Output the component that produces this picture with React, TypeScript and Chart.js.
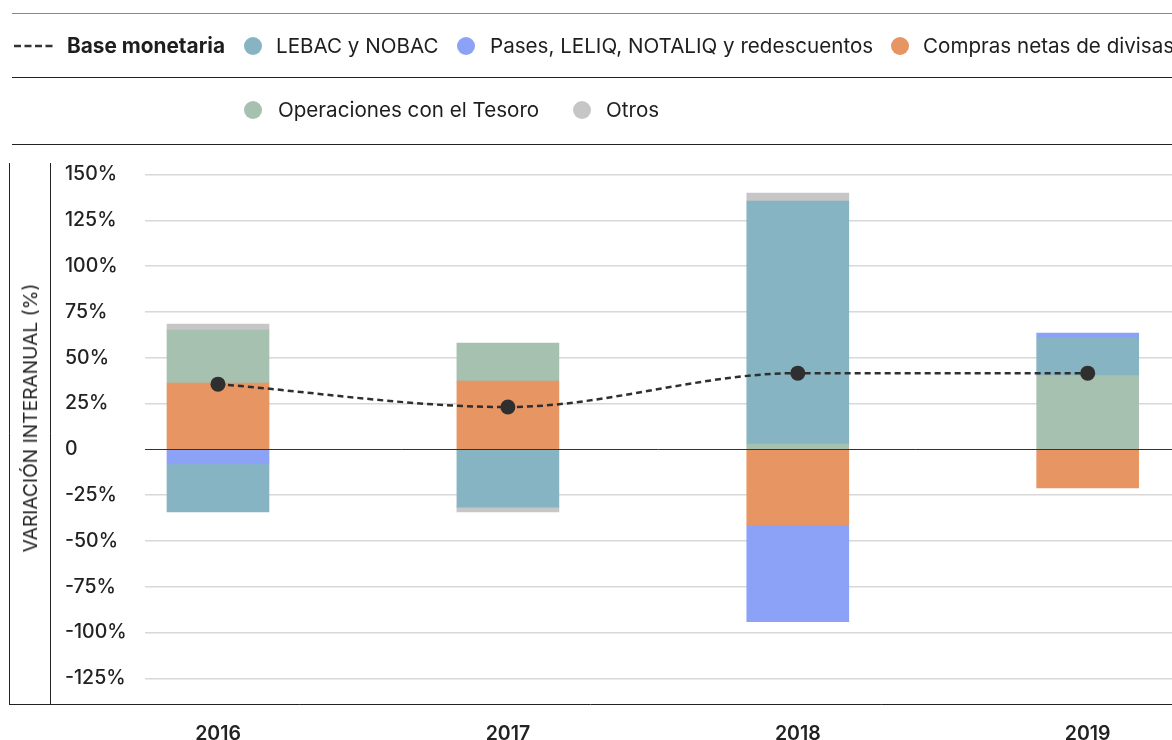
import React, { useEffect, useRef } from 'react';
import { Chart, registerables } from 'chart.js';

Chart.register(...registerables);

// ---- data ----
const years = ['2016', '2017', '2018', '2019'];
const yearPositions = [0, 1, 2, 3];
const baseMonetaria = [35.6, 23.1, 41.6, 41.6];
const lebacNobac = [-26.2, -31.5, 132.6, 20.7];
const pasesLeliq = [-7.9, 0, -52.6, 2.6];
const comprasDivisas = [36.2, 37.3, -41.5, -21.0];
const operacionesTesoro = [28.9, 20.7, 2.9, 40.2];
const otros = [3.3, -2.7, 4.4, 0];
const yTicks = [-125, -100, -75, -50, -25, 0, 25, 50, 75, 100, 125, 150];

const COLORS = {
  lebac: '#86b4c2',
  pases: '#8ca2f6',
  compras: '#e69563',
  tesoro: '#a6c1af',
  otros: '#c6c6c6',
  base: '#2f2f2f',
};

const FONT = "Inter, 'Liberation Sans', Arial, sans-serif";

const toPoints = (values: (number | null)[]) =>
  values.map((v, i) => ({ x: yearPositions[i], y: v === 0 ? null : v }));

const barDataset = (label: string, values: (number | null)[], color: string) => ({
  type: 'bar' as const,
  label,
  data: toPoints(values),
  backgroundColor: color,
  borderWidth: 0,
  stack: 'componentes',
  barThickness: 102,
  order: 1,
});

const framePlugin = {
  id: 'frame',
  afterDatasetsDraw(chart: any) {
    const { ctx, chartArea, scales } = chart;
    const y0 = Math.round(scales.y.getPixelForValue(0)) + 0.5;
    ctx.save();
    ctx.strokeStyle = '#333';
    ctx.lineWidth = 1;
    ctx.beginPath();
    ctx.moveTo(chartArea.left, y0);
    ctx.lineTo(chartArea.right, y0);
    ctx.stroke();
    ctx.restore();
  },
  afterDraw(chart: any) {
    const { ctx, chartArea, width } = chart;
    const top = chartArea.top;
    const bottom = Math.round(chartArea.bottom) + 0.5;
    ctx.save();
    ctx.strokeStyle = '#222';
    ctx.lineWidth = 1;
    ctx.beginPath();
    ctx.moveTo(9.5, top);
    ctx.lineTo(9.5, bottom);
    ctx.moveTo(50.5, top);
    ctx.lineTo(50.5, bottom);
    ctx.moveTo(9, bottom);
    ctx.lineTo(width, bottom);
    ctx.stroke();
    ctx.restore();
  },
};

export default function App() {
  const canvasRef = useRef<HTMLCanvasElement>(null);

  useEffect(() => {
    const canvas = canvasRef.current;
    if (!canvas) return;
    const chart = new Chart(canvas, {
      type: 'bar',
      data: {
        datasets: [
          {
            type: 'line' as const,
            label: 'Base monetaria',
            data: toPoints(baseMonetaria),
            borderColor: COLORS.base,
            borderWidth: 2.5,
            borderDash: [6, 4],
            pointRadius: 7.5,
            pointHoverRadius: 7.5,
            pointBackgroundColor: COLORS.base,
            pointBorderWidth: 0,
            cubicInterpolationMode: 'monotone' as const,
            fill: false,
            stack: 'base',
            order: 0,
          } as any,
          barDataset('Compras netas de divisas', comprasDivisas, COLORS.compras),
          barDataset('Operaciones con el Tesoro', operacionesTesoro, COLORS.tesoro),
          barDataset('Pases, LELIQ, NOTALIQ y redescuentos', pasesLeliq.map((v) => (v < 0 ? v : null)), COLORS.pases),
          barDataset('LEBAC y NOBAC', lebacNobac, COLORS.lebac),
          barDataset('Pases, LELIQ, NOTALIQ y redescuentos', pasesLeliq.map((v) => (v > 0 ? v : null)), COLORS.pases),
          barDataset('Otros', otros, COLORS.otros),
        ],
      },
      options: {
        responsive: false,
        animation: false,
        layout: { autoPadding: false, padding: { left: 65, top: 163, right: 0, bottom: 0 } },
        plugins: { legend: { display: false }, tooltip: { enabled: false } },
        scales: {
          x: {
            type: 'linear',
            offset: false,
            min: -0.2518,
            max: 3.2908,
            grid: { display: false },
            border: { display: false },
            afterBuildTicks: (scale: any) => {
              scale.ticks = yearPositions.map((v) => ({ value: v }));
            },
            afterFit: (scale: any) => {
              scale.height = 36;
            },
            ticks: {
              autoSkip: false,
              maxRotation: 0,
              padding: 10,
              color: '#222',
              font: { family: FONT, size: 19.5, weight: '600' },
              callback: (_v: any, i: number) => years[i],
            },
          },
          y: {
            stacked: true,
            min: -139.0,
            max: 156.3,
            afterBuildTicks: (scale: any) => {
              scale.ticks = yTicks.map((v) => ({ value: v }));
            },
            afterFit: (scale: any) => {
              scale.width = 80;
            },
            grid: {
              drawTicks: false,
              lineWidth: 1.5,
              color: (ctx: any) => (ctx.tick && ctx.tick.value === 0 ? 'rgba(0,0,0,0)' : '#d8d8d8'),
            },
            border: { display: false },
            ticks: {
              crossAlign: 'far',
              color: '#222',
              font: { family: FONT, size: 19.5, weight: '500' },
              callback: (v: any) => (v === 0 ? '0' : `${v}%`),
            },
          },
        },
      } as any,
      plugins: [framePlugin],
    });
    return () => chart.destroy();
  }, []);

  const text: React.CSSProperties = {
    position: 'absolute',
    fontFamily: FONT,
    fontSize: 20.6,
    color: '#1e1e1e',
    whiteSpace: 'nowrap',
    lineHeight: '24px',
    transform: 'translateY(-50%)',
  };
  const dot = (left: number, top: number, color: string): React.CSSProperties => ({
    position: 'absolute',
    left: left - 9,
    top: top - 9,
    width: 18,
    height: 18,
    borderRadius: '50%',
    background: color,
  });
  const hline = (top: number, color: string): React.CSSProperties => ({
    position: 'absolute',
    left: 12,
    right: 0,
    top,
    height: 1,
    background: color,
  });

  const row1 = 46;
  const row2 = 110;

  return (
    <div
      style={{
        position: 'absolute',
        left: 0,
        top: 0,
        width: 1172,
        height: 740,
        overflow: 'hidden',
        background: '#fff',
      }}
    >
      <canvas ref={canvasRef} width={1172} height={740} style={{ position: 'absolute', left: 0, top: 0 }} />

      <div style={hline(13, '#888')} />
      <div style={hline(77, '#222')} />
      <div style={hline(144, '#222')} />

      <svg style={{ position: 'absolute', left: 12, top: row1 - 3 }} width={44} height={6}>
        <line x1={2} y1={3} x2={44} y2={3} stroke="#333" strokeWidth={2.5} strokeDasharray="7 3.5" />
      </svg>
      <div style={{ ...text, left: 67, top: row1, fontWeight: 700, fontSize: 20.8 }}>Base monetaria</div>

      <div style={dot(253, row1, COLORS.lebac)} />
      <div style={{ ...text, left: 276, top: row1 }}>LEBAC y NOBAC</div>

      <div style={dot(466, row1, COLORS.pases)} />
      <div style={{ ...text, left: 490, top: row1 }}>Pases, LELIQ, NOTALIQ y redescuentos</div>

      <div style={dot(900, row1, COLORS.compras)} />
      <div style={{ ...text, left: 923, top: row1 }}>Compras netas de divisas</div>

      <div style={dot(253, row2, COLORS.tesoro)} />
      <div style={{ ...text, left: 278, top: row2 }}>Operaciones con el Tesoro</div>

      <div style={dot(582, row2, COLORS.otros)} />
      <div style={{ ...text, left: 606, top: row2 }}>Otros</div>

      <div
        style={{
          position: 'absolute',
          left: 30,
          top: 418,
          transform: 'translate(-50%, -50%) rotate(-90deg)',
          fontFamily: FONT,
          fontSize: 19.2,
          color: '#222',
          whiteSpace: 'nowrap',
          lineHeight: '22px',
        }}
      >
        VARIACIÓN INTERANUAL (%)
      </div>
    </div>
  );
}
